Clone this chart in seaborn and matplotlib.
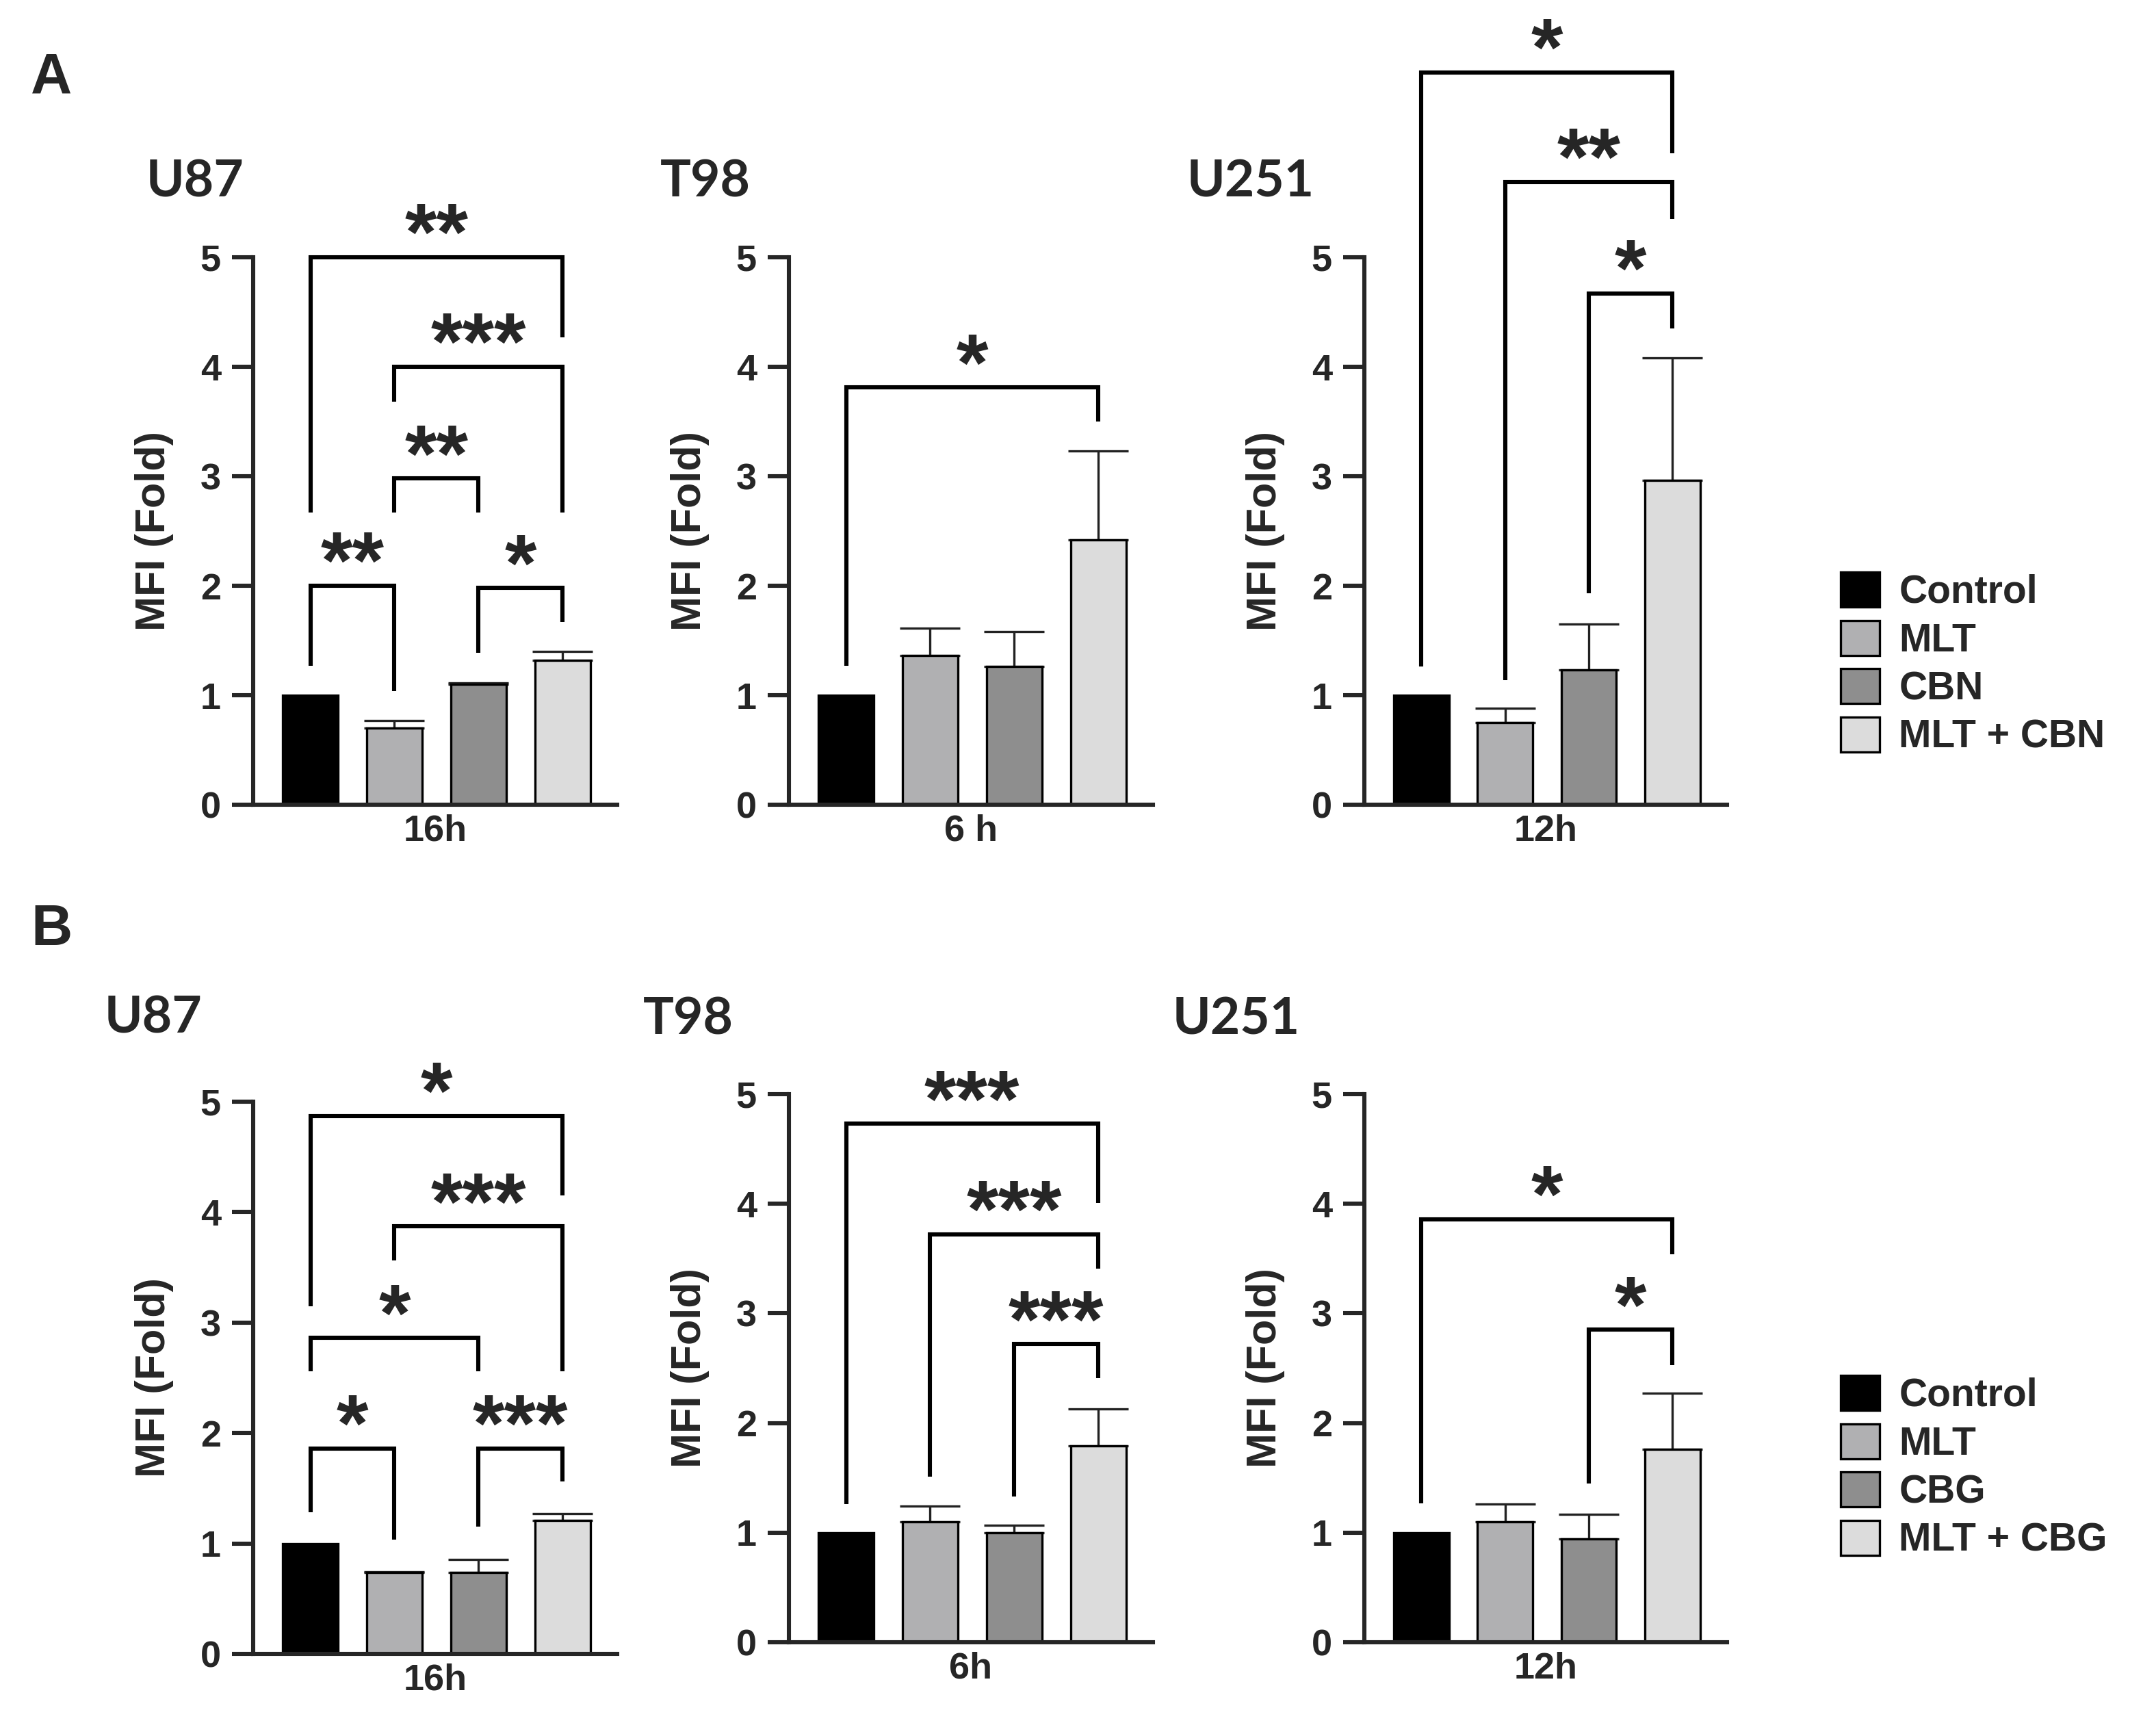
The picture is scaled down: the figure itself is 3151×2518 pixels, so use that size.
import matplotlib
matplotlib.use("Agg")
import matplotlib.pyplot as plt
from matplotlib.patches import Patch
import seaborn as sns

sns.set_style("ticks")
plt.rcParams['font.family'] = 'Liberation Sans'
plt.rcParams['font.weight'] = 'bold'

W, H = 3151, 2518
DPI = 200

# groups / colours
groups_A = ["Control", "MLT", "CBN", "MLT + CBN"]
groups_B = ["Control", "MLT", "CBG", "MLT + CBG"]
bar_colors = ["#000000", "#b0b0b2", "#8e8e8e", "#dcdcdc"]

# panel A (CBN)
u87_a_mean = [1.00, 0.70, 1.10, 1.32]
u87_a_err = [0.00, 0.07, 0.01, 0.08]
t98_a_mean = [1.00, 1.36, 1.26, 2.42]
t98_a_err = [0.00, 0.25, 0.32, 0.81]
u251_a_mean = [1.00, 0.75, 1.23, 2.96]
u251_a_err = [0.00, 0.13, 0.42, 1.12]

# panel B (CBG)
u87_b_mean = [1.00, 0.735, 0.735, 1.21]
u87_b_err = [0.00, 0.01, 0.12, 0.06]
t98_b_mean = [1.00, 1.10, 1.00, 1.79]
t98_b_err = [0.00, 0.14, 0.07, 0.34]
u251_b_mean = [1.00, 1.10, 0.94, 1.76]
u251_b_err = [0.00, 0.16, 0.23, 0.51]

# significance brackets: (left bar, right bar, top, left leg end, right leg end, label)
u87_a_sig = [(0, 1, 2.00, 1.27, 1.04, "**"), (2, 3, 1.98, 1.39, 1.67, "*"),
             (1, 2, 2.98, 2.67, 2.67, "**"), (1, 3, 4.00, 3.68, 2.67, "***"),
             (0, 3, 5.00, 2.67, 4.27, "**")]
t98_a_sig = [(0, 3, 3.81, 1.27, 3.50, "*")]
u251_a_sig = [(2, 3, 4.67, 1.93, 4.35, "*"), (1, 3, 5.69, 1.14, 5.35, "**"),
              (0, 3, 6.69, 1.26, 5.95, "*")]
u87_b_sig = [(0, 1, 1.86, 1.285, 1.035, "*"), (2, 3, 1.86, 1.15, 1.56, "***"),
             (0, 2, 2.86, 2.56, 2.56, "*"), (1, 3, 3.87, 3.56, 2.56, "***"),
             (0, 3, 4.87, 3.145, 4.15, "*")]
t98_b_sig = [(2, 3, 2.72, 1.33, 2.41, "***"), (1, 3, 3.72, 1.51, 3.41, "***"),
             (0, 3, 4.73, 1.26, 4.01, "***")]
u251_b_sig = [(2, 3, 2.85, 1.45, 2.53, "*"), (0, 3, 3.86, 1.27, 3.54, "*")]

LW = 2.2


def px_box(left, top, right, bottom):
    return [left / W, 1 - bottom / H, (right - left) / W, (bottom - top) / H]


def draw_panel(fig, box, groups, mean, err, sig, xlabel):
    ax = fig.add_axes(box)
    sns.barplot(x=groups, y=mean, hue=groups, palette=bar_colors, order=groups,
                hue_order=groups, width=0.66, edgecolor="black", linewidth=1.2,
                legend=False, ax=ax, zorder=2)
    for i in range(len(mean)):
        if err[i] > 0:
            ax.errorbar(i, mean[i], yerr=[[0], [err[i]]], fmt="none", ecolor="#222222",
                        elinewidth=1.2, capsize=16, capthick=1.2, zorder=1)
    for (i, j, top, lb, rb, lab) in sig:
        ax.plot([i, i, j, j], [lb, top, top, rb], color="black", lw=LW,
                clip_on=False, solid_joinstyle="miter", solid_capstyle="butt")
        ax.annotate(lab, xy=((i + j) / 2, top), xytext=(0, -1.5), textcoords="offset points",
                    ha="center", va="baseline", fontsize=43, fontweight="bold",
                    annotation_clip=False)
    ax.set_xlim(-0.68, 3.65)
    ax.set_ylim(0, 5)
    ax.set_yticks([0, 1, 2, 3, 4, 5])
    ax.set_xticks([])
    ax.tick_params(axis="y", length=11, width=LW, pad=6, labelsize=19.5)
    for t in ax.get_yticklabels():
        t.set_fontweight("bold")
    for s in ["left", "bottom"]:
        ax.spines[s].set_linewidth(LW)
    sns.despine(ax=ax)
    ax.set_ylabel("MFI (Fold)", fontsize=22, fontweight="bold", labelpad=14)
    ax.set_xlabel(xlabel, fontsize=19.5, fontweight="bold", labelpad=5)
    ax.patch.set_alpha(0)
    return ax


fig = plt.figure(figsize=(W / DPI, H / DPI), dpi=DPI)

ax1 = draw_panel(fig, px_box(370, 376, 902, 1176), groups_A, u87_a_mean, u87_a_err, u87_a_sig, "16h")
ax2 = draw_panel(fig, px_box(1153, 376, 1685, 1176), groups_A, t98_a_mean, t98_a_err, t98_a_sig, "6 h")
ax3 = draw_panel(fig, px_box(1994, 376, 2524, 1176), groups_A, u251_a_mean, u251_a_err, u251_a_sig, "12h")
ax4 = draw_panel(fig, px_box(370, 1610, 902, 2417), groups_B, u87_b_mean, u87_b_err, u87_b_sig, "16h")
ax5 = draw_panel(fig, px_box(1153, 1599, 1685, 2400), groups_B, t98_b_mean, t98_b_err, t98_b_sig, "6h")
ax6 = draw_panel(fig, px_box(1994, 1599, 2524, 2400), groups_B, u251_b_mean, u251_b_err, u251_b_sig, "12h")

# panel letters and cell line titles
fig.text(45 / W, 1 - 137 / H, "A", fontsize=30, fontweight="bold", va="baseline")
fig.text(45 / W, 1 - 1381 / H, "B", fontsize=30, fontweight="bold", va="baseline")
title_kw = dict(fontsize=27, fontweight="bold", family="Lato", va="baseline")
fig.text(214 / W, 1 - 287 / H, "U87", **title_kw)
fig.text(965 / W, 1 - 287 / H, "T98", **title_kw)
fig.text(1735 / W, 1 - 287 / H, "U251", **title_kw)
fig.text(153 / W, 1 - 1510 / H, "U87", **title_kw)
fig.text(940 / W, 1 - 1512 / H, "T98", **title_kw)
fig.text(1714 / W, 1 - 1512 / H, "U251", **title_kw)

# legends
for ax, groups, top in [(ax3, groups_A, 836), (ax6, groups_B, 2010)]:
    handles = [Patch(facecolor=c, edgecolor="black", linewidth=1.2, label=g)
               for c, g in zip(bar_colors, groups)]
    ax.legend(handles=handles, loc="upper left", bbox_to_anchor=(2690 / W, 1 - top / H),
              bbox_transform=fig.transFigure, frameon=False,
              handlelength=1.0, handleheight=1.0, handletextpad=0.5,
              labelspacing=0.24, borderpad=0, borderaxespad=0,
              prop={"weight": "bold", "size": 20.5})

fig.savefig("out.png", dpi=DPI, facecolor="white")
